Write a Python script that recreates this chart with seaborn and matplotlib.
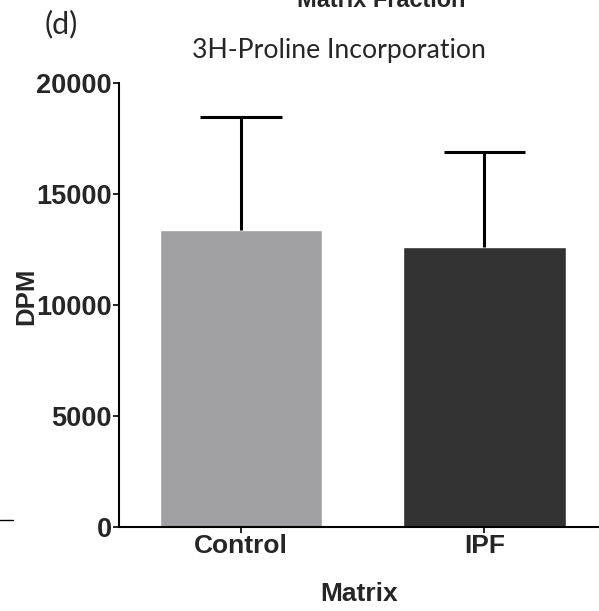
import matplotlib
matplotlib.use("Agg")
import matplotlib.pyplot as plt
from matplotlib.lines import Line2D
import seaborn as sns
import pandas as pd

# Data: mean DPM with upward error (SD) per matrix group
groups = ["Control", "IPF"]
dpm_mean = [13400, 12630]
dpm_err = [5050, 4270]
bar_colors = ["#A0A0A4", "#323232"]
y_ticks = [0, 5000, 10000, 15000, 20000]

sns.set_theme(style="white")
plt.rcParams["font.family"] = ["Liberation Sans", "DejaVu Sans"]

df = pd.DataFrame({"Matrix": groups, "DPM": dpm_mean})

fig = plt.figure(figsize=(5.99, 6.11), dpi=100)
ax = fig.add_axes([119 / 599, 1 - 527 / 611, 480 / 599, 444 / 611])

sns.barplot(data=df, x="Matrix", y="DPM", hue="Matrix", palette=bar_colors,
            width=0.667, errorbar=None, legend=False, ax=ax, saturation=1)

# one-sided (upper) error bars with a cap at the top only
xpos = list(range(len(groups)))
tops = [m + e for m, e in zip(dpm_mean, dpm_err)]
cap_half = 0.168
ax.vlines(xpos, dpm_mean, tops, color="black", linewidth=2.2, zorder=3)
ax.hlines(tops, [x - cap_half for x in xpos], [x + cap_half for x in xpos],
          color="black", linewidth=2.2, zorder=3)

ax.set_ylim(0, 20000)
ax.set_xlim(-0.5, 1.47)
ax.set_yticks(y_ticks)
ax.set_yticklabels([str(v) for v in y_ticks], fontsize=19.5, fontweight="bold")
ax.set_xticks(xpos)
ax.set_xticklabels(groups, fontsize=19, fontweight="bold")

for side in ("top", "right"):
    ax.spines[side].set_visible(False)
for side in ("left", "bottom"):
    ax.spines[side].set_color("black")
    ax.spines[side].set_linewidth(1.5)

ax.tick_params(axis="both", which="major", direction="out", length=4,
               width=1.2, color="black", pad=1, left=True, bottom=True)

ax.set_xlabel("Matrix", fontsize=19, fontweight="bold", labelpad=17)
ax.set_ylabel("DPM", fontsize=18.5, fontweight="bold")
ax.yaxis.set_label_coords(-0.169, 0.52)

# Panel heading, panel letter and chart title
fig.text(381 / 599, 1 - 7 / 611, "Matrix Fraction", ha="center",
         va="baseline", fontsize=16.9, fontweight="bold")
fig.text(45 / 599, 1 - 33 / 611, "(d)", ha="left", va="baseline",
         fontsize=22, family=["Lato", "DejaVu Sans"])
fig.text(338.5 / 599, 1 - 58 / 611, "3H-Proline Incorporation", ha="center",
         va="baseline", fontsize=19.2, family=["Lato", "DejaVu Sans"])

# short rule at the left margin
fig.add_artist(Line2D([0, 12.7 / 599], [1 - 520 / 611, 1 - 520 / 611],
                      transform=fig.transFigure, color="black", linewidth=1))

fig.savefig("out.png", dpi=100)
